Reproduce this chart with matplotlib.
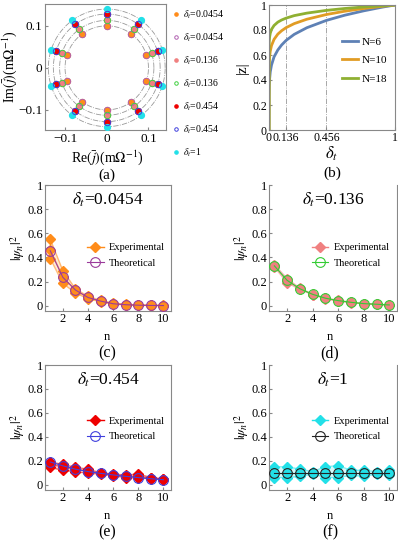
import matplotlib
matplotlib.use("Agg")
import matplotlib.pyplot as plt
import numpy as np

plt.rcParams.update({
    "font.family": ["Liberation Serif", "DejaVu Serif"],
    "mathtext.fontset": "stix",
    "axes.edgecolor": "#888888",
    "axes.linewidth": 0.8,
    "xtick.direction": "in",
    "ytick.direction": "in",
    "xtick.major.size": 2.5,
    "ytick.major.size": 2.5,
    "xtick.color": "#888888",
    "ytick.color": "#888888",
    "xtick.labelcolor": "black",
    "ytick.labelcolor": "black",
})

W, H = 398, 543

# ---- panel (a): eigen-currents on the complex plane ----
angles_deg = [90, 126, 162, 198, 234, 270, 306, 342, 18, 54]
ring_radii = [0.100, 0.113, 0.128, 0.140]
a_labels = [r"$\delta_t$=0.0454", r"$\delta_t$=0.0454", r"$\delta_t$=0.136",
            r"$\delta_t$=0.136", r"$\delta_t$=0.454", r"$\delta_t$=0.454",
            r"$\delta_t$=1"]
a_radius = [0.100, 0.100, 0.113, 0.113, 0.128, 0.128, 0.140]
a_filled = [True, False, True, False, True, False, True]
a_colors = ["#ff8c1a", "#b060b0", "#f08080", "#40d040", "#ee0000", "#4040dd", "#22e0e8"]

# ---- panel (b): |z| vs delta_t ----
b_delta = [0, 0.0005, 0.002, 0.005, 0.01, 0.02, 0.04, 0.07, 0.1, 0.136,
           0.2, 0.3, 0.456, 0.6, 0.75, 0.9, 1.0]
z_n6 = [0, 0.28, 0.355, 0.41, 0.465, 0.52, 0.585, 0.64, 0.68, 0.717,
        0.765, 0.818, 0.877, 0.918, 0.953, 0.983, 1.0]
z_n10 = [0, 0.47, 0.54, 0.59, 0.63, 0.676, 0.725, 0.767, 0.794, 0.819,
         0.851, 0.886, 0.924, 0.95, 0.972, 0.99, 1.0]
z_n18 = [0, 0.655, 0.71, 0.745, 0.774, 0.805, 0.836, 0.863, 0.88, 0.895,
         0.915, 0.935, 0.957, 0.972, 0.984, 0.994, 1.0]
b_marks = [0.136, 0.456]

# ---- panels (c)-(f): |psi_n|^2 ----
n = list(range(1, 11))

c_exp = [[0.55, 0.29, 0.14, 0.078, 0.045, 0.022, 0.011, 0.006, 0.004, 0.003],
         [0.46, 0.24, 0.125, 0.068, 0.038, 0.017, 0.008, 0.004, 0.002, 0.001],
         [0.39, 0.185, 0.105, 0.058, 0.032, 0.013, 0.006, 0.003, 0.001, 0.0]]
c_th = [0.455, 0.235, 0.13, 0.068, 0.038, 0.016, 0.008, 0.004, 0.002, 0.001]

d_exp = [[0.34, 0.225, 0.145, 0.097, 0.064, 0.044, 0.029, 0.018, 0.012, 0.007],
         [0.33, 0.205, 0.14, 0.092, 0.06, 0.04, 0.027, 0.016, 0.011, 0.006],
         [0.32, 0.19, 0.135, 0.09, 0.058, 0.038, 0.025, 0.015, 0.010, 0.005]]
d_th = [0.33, 0.21, 0.14, 0.094, 0.062, 0.042, 0.028, 0.017, 0.012, 0.006]

e_exp = [[0.19, 0.17, 0.145, 0.13, 0.10, 0.09, 0.08, 0.09, 0.06, 0.05],
         [0.17, 0.15, 0.13, 0.115, 0.095, 0.085, 0.07, 0.07, 0.055, 0.045],
         [0.145, 0.12, 0.11, 0.095, 0.09, 0.075, 0.06, 0.055, 0.05, 0.04]]
e_th = [0.19, 0.158, 0.13, 0.11, 0.095, 0.082, 0.07, 0.06, 0.05, 0.042]

f_exp = [[0.15, 0.15, 0.13, 0.11, 0.15, 0.16, 0.12, 0.12, 0.11, 0.12],
         [0.10, 0.10, 0.10, 0.10, 0.10, 0.10, 0.10, 0.10, 0.10, 0.10],
         [0.06, 0.06, 0.07, 0.09, 0.06, 0.06, 0.08, 0.07, 0.09, 0.08]]
f_th = [0.10, 0.10, 0.10, 0.10, 0.10, 0.10, 0.10, 0.10, 0.10, 0.10]


def px_axes(fig, left, right, top, bottom):
    return fig.add_axes([left / W, 1 - bottom / H, (right - left) / W, (bottom - top) / H])


fig = plt.figure(figsize=(W / 100, H / 100), dpi=100)

# (a)
ax = px_axes(fig, 45, 166, 4, 130)
t = np.linspace(0, 2 * np.pi, 300)
for r in ring_radii:
    ax.plot(r * np.cos(t), r * np.sin(t), color="#999999", lw=0.6, ls="-.", zorder=1)
th = np.deg2rad(angles_deg)
for lab, r, filled, col in zip(a_labels, a_radius, a_filled, a_colors):
    if filled:
        ax.plot(r * np.cos(th), r * np.sin(th), "o", ms=4.2, color=col, mec=col,
                ls="none", label=lab, zorder=3)
    else:
        ax.plot(r * np.cos(th), r * np.sin(th), "o", ms=4.6, mfc="none", mec=col,
                mew=0.7, ls="none", label=lab, zorder=4)
ax.set_xlim(-0.148, 0.142)
ax.set_ylim(-0.148, 0.152)
ax.set_xticks([-0.1, 0, 0.1])
ax.set_xticklabels(["\u22120.1", "0", "0.1"])
ax.set_yticks([-0.1, 0, 0.1])
ax.set_yticklabels(["\u22120.1", "0", "0.1"])
ax.tick_params(labelsize=9.5, pad=2)
ax.legend(loc="upper left", bbox_to_anchor=(1.0, 1.01), frameon=False, fontsize=7,
          markerscale=0.55, handlelength=0.8, handletextpad=0.3, labelspacing=1.08,
          borderaxespad=0.2)
fig.text(107 / W, 1 - 158 / H, r"Re$(\bar{j})$(m$\Omega^{-1}$)", ha="center", va="center", fontsize=10)
fig.text(107 / W, 1 - 175 / H, "(a)", ha="center", va="center", fontsize=11)
fig.text(10 / W, 1 - 67 / H, r"Im$(\bar{j})$(m$\Omega^{-1}$)", ha="center", va="center",
         rotation=90, fontsize=10)

# (b)
ax = px_axes(fig, 269, 395, 5, 130)
for x in b_marks:
    ax.axvline(x, color="#999999", lw=0.6, ls="-.", zorder=1)
ax.plot(b_delta, z_n6, color="#5e81b5", lw=2, label="N=6")
ax.plot(b_delta, z_n10, color="#e19c24", lw=2, label="N=10")
ax.plot(b_delta, z_n18, color="#8fb032", lw=2, label="N=18")
ax.set_xlim(0, 1)
ax.set_ylim(0, 1)
ax.set_xticks([0] + b_marks + [1])
ax.set_xticklabels(["0", "0.136", "0.456", "1"])
ax.set_yticks([0, 0.2, 0.4, 0.6, 0.8, 1])
ax.set_yticklabels(["0", "0.2", "0.4", "0.6", "0.8", "1"])
ax.tick_params(labelsize=8.5, pad=1.5)
ax.legend(loc="upper right", bbox_to_anchor=(1.02, 0.82), frameon=False, fontsize=8,
          handlelength=1.4, handletextpad=0.4, labelspacing=0.75)
ax.set_ylabel("|z|", fontsize=11, labelpad=2)
fig.text(332 / W, 1 - 154 / H, r"$\delta_t$", ha="center", va="center", fontsize=12)
fig.text(332 / W, 1 - 173 / H, "(b)", ha="center", va="center", fontsize=11)


def psi_panel(box, exp, th_vals, exp_col, th_col, title, tag, tag_x, leg_y, top_spine):
    ax = px_axes(fig, *box)
    lo = np.min(exp, axis=0)
    hi = np.max(exp, axis=0)
    ax.fill_between(n, lo, hi, color=exp_col, alpha=0.18, lw=0, zorder=1)
    for s in exp:
        ax.plot(n, s, "-", color=exp_col, alpha=0.55, lw=1.0, zorder=2)
        ax.plot(n, s, "D", color=exp_col, ms=5.5, mec=exp_col, zorder=2)
    ax.plot([], [], "-D", color=exp_col, lw=1.0, ms=5.5, label="Experimental")
    ax.plot(n, th_vals, "-o", color=th_col, lw=0.8, ms=7, mfc="none", mec=th_col,
            mew=0.8, label="Theoretical", zorder=3)
    ax.set_xlim(0.58, 10.6)
    ax.set_ylim(-0.044, 1.0)
    ax.set_xticks([2, 4, 6, 8, 10])
    ax.set_yticks([0, 0.2, 0.4, 0.6, 0.8, 1])
    ax.set_yticklabels(["0", "0.2", "0.4", "0.6", "0.8", "1"])
    ax.tick_params(labelsize=9, pad=1.5)
    if not top_spine:
        ax.spines["top"].set_visible(False)
    ax.text(0.5, 0.88, title, transform=ax.transAxes, ha="center", va="center", fontsize=12.5)
    ax.legend(loc="center left", bbox_to_anchor=(0.26, leg_y), frameon=False, fontsize=7.5,
              handlelength=1.6, handletextpad=0.5, labelspacing=0.6)
    ax.set_ylabel(r"$|\psi_n|^2$", fontsize=10, labelpad=0)
    bottom = box[3]
    fig.text(tag_x / W, 1 - (bottom + 26) / H, "n", ha="center", va="center", fontsize=9)
    fig.text(tag_x / W, 1 - (bottom + 42) / H, tag, ha="center", va="center", fontsize=11.5)
    return ax


psi_panel((45, 171, 185, 311), c_exp, c_th, "#ff8c1a", "#9b3a9b",
          r"$\delta_t$=0.0454", "(c)", 107, 0.44, True)
psi_panel((269, 397, 185, 311), d_exp, d_th, "#f08080", "#33cc33",
          r"$\delta_t$=0.136", "(d)", 330, 0.44, False)
psi_panel((45, 171, 365, 490), e_exp, e_th, "#ee0000", "#4040dd",
          r"$\delta_t$=0.454", "(e)", 107, 0.49, True)
psi_panel((269, 397, 365, 490), f_exp, f_th, "#22e0e8", "#222222",
          r"$\delta_t$=1", "(f)", 330, 0.49, False)

fig.savefig("out.png", dpi=100)
